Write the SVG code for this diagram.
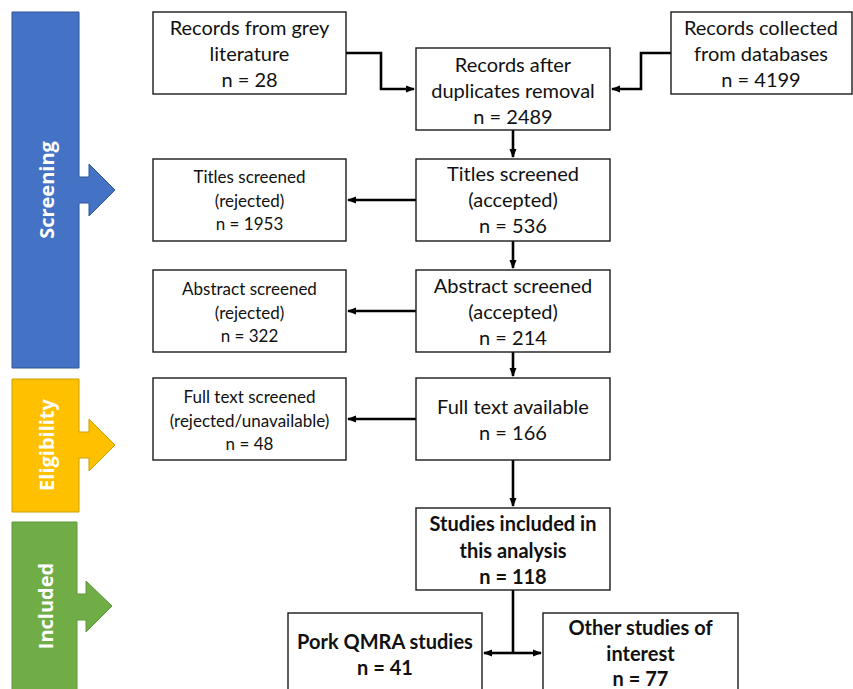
<svg xmlns="http://www.w3.org/2000/svg" width="853" height="689" viewBox="0 0 853 689">
<style>
.box{fill:#fff;stroke:#1a1a1a;stroke-width:1.4}
.t{font-family:Lato,"Open Sans","Liberation Sans",sans-serif;font-size:20px;fill:#111;text-anchor:middle}
.s{font-size:17px}
.b{font-weight:bold}
.con{fill:none;stroke:#000;stroke-width:2.6}
.side{font-family:"Open Sans","Liberation Sans",sans-serif;font-size:20px;font-weight:bold;fill:#fff;text-anchor:middle;dominant-baseline:central}
</style>
<defs>
<marker id="ah" markerUnits="userSpaceOnUse" markerWidth="9" markerHeight="8" refX="8" refY="4" orient="auto">
<path d="M0,0.5 L9,4 L0,7.5 Z" fill="#000"/>
</marker>
</defs>
<g id="phase-screening">
<path d="M12,12 H79 V177 H89 V164 L115,190 L89,216 V203 H79 V368 H12 Z" fill="#4472C4" stroke="#2F5597" stroke-width="1"/>
<text class="side" transform="translate(46,190) rotate(-90)">Screening</text>
</g>
<g id="phase-eligibility">
<path d="M12,379 H79 V432 H89 V419 L115,445 L89,471 V458 H79 V512 H12 Z" fill="#FFC000" stroke="#C9A000" stroke-width="1"/>
<text class="side" transform="translate(46,445) rotate(-90)">Eligibility</text>
</g>
<g id="phase-included">
<path d="M12,522 H77 V594 H86 V581 L112,606 L86,632 V620 H77 V700 H12 Z" fill="#70AD47" stroke="#5B9A3A" stroke-width="1"/>
<text class="side" transform="translate(45,606) rotate(-90)">Included</text>
</g>
<g id="connectors">
<path class="con" d="M346,53 H381 V89 H414" marker-end="url(#ah)"/>
<path class="con" d="M671,53 H641 V89 H612" marker-end="url(#ah)"/>
<path class="con" d="M513,130 V157" marker-end="url(#ah)"/>
<path class="con" d="M416,200 H348" marker-end="url(#ah)"/>
<path class="con" d="M513,241 V268" marker-end="url(#ah)"/>
<path class="con" d="M416,311 H348" marker-end="url(#ah)"/>
<path class="con" d="M513,352 V376" marker-end="url(#ah)"/>
<path class="con" d="M416,419 H348" marker-end="url(#ah)"/>
<path class="con" d="M513,460 V506" marker-end="url(#ah)"/>
<path class="con" d="M513,590 V653"/>
<path class="con" d="M513,653 H484" marker-end="url(#ah)"/>
<path class="con" d="M513,653 H541" marker-end="url(#ah)"/>
</g>
<g id="grey">
<rect class="box" x="153" y="12" width="193" height="82"/>
<text class="t"><tspan x="249.5" y="35">Records from grey</tspan><tspan x="249.5" y="61">literature</tspan><tspan x="249.5" y="87">n = 28</tspan></text>
</g>
<g id="databases">
<rect class="box" x="671" y="12" width="181" height="82"/>
<text class="t"><tspan x="761" y="35">Records collected</tspan><tspan x="761" y="61">from databases</tspan><tspan x="761" y="87">n = 4199</tspan></text>
</g>
<g id="duplicates">
<rect class="box" x="416" y="48" width="194" height="82"/>
<text class="t"><tspan x="513" y="72">Records after</tspan><tspan x="513" y="98">duplicates removal</tspan><tspan x="513" y="124">n = 2489</tspan></text>
</g>
<g id="titles-accepted">
<rect class="box" x="416" y="159" width="194" height="82"/>
<text class="t"><tspan x="513" y="181">Titles screened</tspan><tspan x="513" y="207">(accepted)</tspan><tspan x="513" y="233">n = 536</tspan></text>
</g>
<g id="titles-rejected">
<rect class="box" x="153" y="159" width="193" height="82"/>
<text class="t s"><tspan x="249.5" y="183">Titles screened</tspan><tspan x="249.5" y="207">(rejected)</tspan><tspan x="249.5" y="230">n = 1953</tspan></text>
</g>
<g id="abstract-accepted">
<rect class="box" x="416" y="270" width="194" height="82"/>
<text class="t"><tspan x="513" y="293">Abstract screened</tspan><tspan x="513" y="319">(accepted)</tspan><tspan x="513" y="345">n = 214</tspan></text>
</g>
<g id="abstract-rejected">
<rect class="box" x="153" y="270" width="193" height="82"/>
<text class="t s"><tspan x="249.5" y="295">Abstract screened</tspan><tspan x="249.5" y="319">(rejected)</tspan><tspan x="249.5" y="342">n = 322</tspan></text>
</g>
<g id="fulltext-available">
<rect class="box" x="416" y="378" width="194" height="82"/>
<text class="t"><tspan x="513" y="414">Full text available</tspan><tspan x="513" y="440">n = 166</tspan></text>
</g>
<g id="fulltext-rejected">
<rect class="box" x="153" y="378" width="193" height="82"/>
<text class="t s"><tspan x="249.5" y="403">Full text screened</tspan><tspan x="249.5" y="427">(rejected/unavailable)</tspan><tspan x="249.5" y="450">n = 48</tspan></text>
</g>
<g id="studies-included">
<rect class="box" x="416" y="508" width="194" height="82"/>
<text class="t b"><tspan x="513" y="531">Studies included in</tspan><tspan x="513" y="558">this analysis</tspan><tspan x="513" y="584">n = 118</tspan></text>
</g>
<g id="pork-qmra">
<rect class="box" x="288" y="613" width="194" height="90"/>
<text class="t b"><tspan x="385" y="649">Pork QMRA studies</tspan><tspan x="385" y="675">n = 41</tspan></text>
</g>
<g id="other-studies">
<rect class="box" x="543" y="613" width="195" height="90"/>
<text class="t b"><tspan x="640.5" y="635">Other studies of</tspan><tspan x="640.5" y="661">interest</tspan><tspan x="640.5" y="686">n = 77</tspan></text>
</g>
</svg>
